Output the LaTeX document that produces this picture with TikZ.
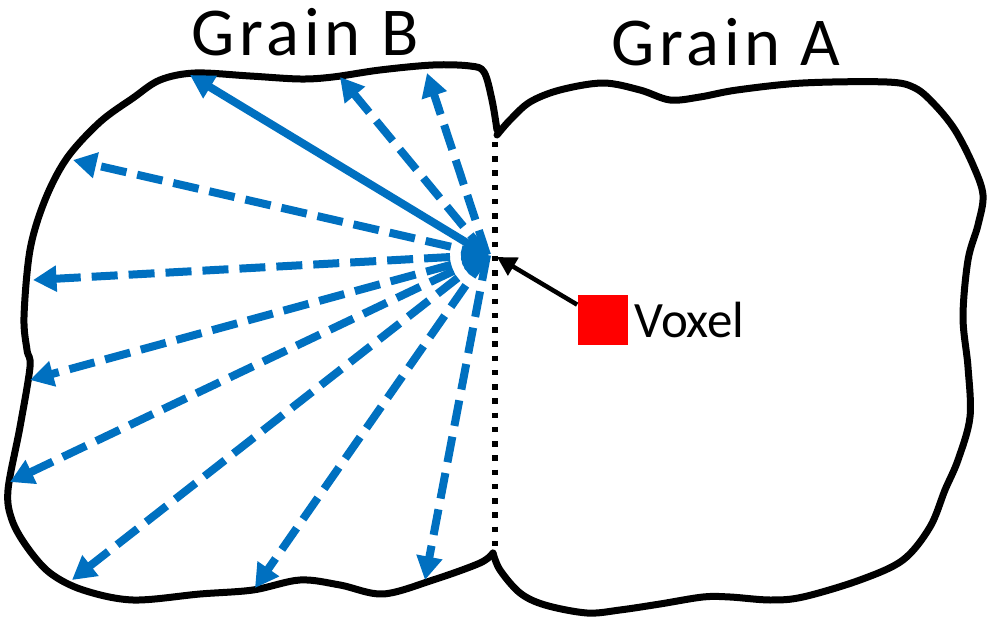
\documentclass[tikz,border=0pt]{standalone}
\usepackage{fontspec}
\setmainfont{Carlito}
\newfontfamily\grainfont[LetterSpace=7]{Carlito}
\usetikzlibrary{arrows.meta, positioning}
\definecolor{fanblue}{RGB}{0,112,192}

\begin{document}
\begin{tikzpicture}[
  x=0.02cm, y=-0.02cm,
  outline/.style={line width=0.14cm, line join=round, line cap=round},
  gbline/.style={line width=0.11cm, dash pattern=on 0.11cm off 0.175cm},
  fan/.style={-{Triangle[length=0.47cm,width=0.5cm]}, fanblue, line width=0.16cm},
  fandash/.style={fan, dash pattern=on 0.52cm off 0.22cm},
  ptr/.style={-{Triangle[length=0.38cm,width=0.4cm]}, line width=0.09cm},
  cell/.style={rectangle, fill=red, minimum size=1.02cm, inner sep=0},
  title/.style={font=\grainfont\fontsize{39pt}{42pt}\selectfont, anchor=base, inner sep=0}
]
\useasboundingbox (0,0) rectangle (992,625);

% grain outlines, both open at the shared boundary
\draw[outline] plot[smooth, tension=0.55] coordinates {
  (497,130) (492,100) (484,72) (470,66) (433,65) (380,70) (333,77) (300,79)
  (250,76) (195,73) (160,80) (133,98) (100,122) (67,158) (45,200) (30,250)
  (24,317) (27,350) (30,367) (20,427) (8,490) (12,520) (27,547) (50,573)
  (83,590) (133,600) (200,594) (253,590) (300,580) (340,585) (383,594)
  (433,580) (480,563) (493,553)};
\draw[outline] plot[smooth, tension=0.55] coordinates {
  (497,135) (510,120) (530,102) (560,90) (603,83) (640,90) (670,100)
  (700,97) (737,90) (803,83) (887,82) (915,88) (935,105) (955,130)
  (973,165) (983,195) (978,225) (968,260) (963,317) (968,367) (970,417)
  (958,460) (945,490) (930,527) (903,560) (860,580) (803,597) (770,600)
  (730,597) (703,597) (660,604) (620,610) (587,613) (545,605) (520,593)
  (500,570) (493,553)};

\node[title] (grainB) at (305,56) {Grain B};
\node[title] (grainA) at (726,66) {Grain A};

% grain boundary
\coordinate (gbtop) at (495,142);
\coordinate (gbbot) at (495,548);
\draw[gbline] (gbtop) -- (gbbot);

% fan of paths into grain B
\coordinate (src) at (487,255);
\foreach \n/\x/\y in {e1/340/77, e2/427/73, e3/73/160, e4/33/280, e5/30/380,
                      e6/10/482, e7/72/580, e8/255/588, e9/425/580}
  \coordinate (\n) at (\x,\y);
\coordinate (esolid) at (190,75);
\foreach \n in {e1,e2,e3,e4,e5,e6,e7,e8,e9}
  \draw[fandash] (src) -- (\n);
\draw[fan] (src) -- (esolid);

% voxel
\coordinate (hit) at (497,257);
\node[cell] (voxel) at (603,320) {};
\node[right=0.1cm of voxel, inner sep=0, font=\fontsize{29pt}{32pt}\selectfont] (vlabel) {Voxel};
\draw[ptr] (voxel) -- (hit);
\end{tikzpicture}
\end{document}
